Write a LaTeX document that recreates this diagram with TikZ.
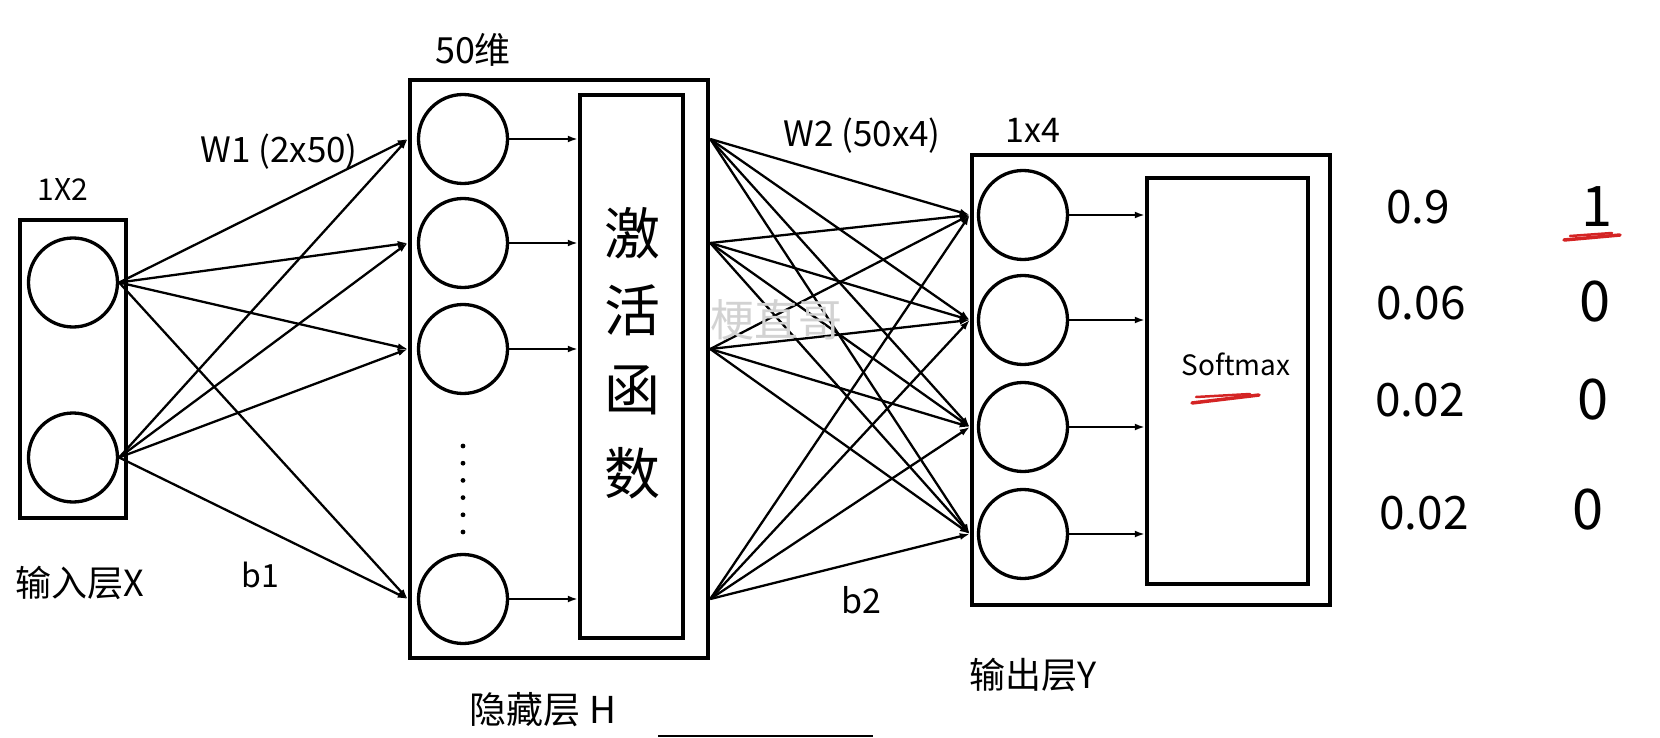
\documentclass[tikz,border=0pt]{standalone}
\usepackage{fontspec}
\setmainfont{Noto Sans CJK SC}
\usetikzlibrary{arrows.meta}
\definecolor{penred}{HTML}{D42424}
\begin{document}
\begin{tikzpicture}[x=1pt,y=-1pt,
  box/.style={draw, rectangle, line width=4.5pt, inner sep=0pt},
  neuron/.style={draw, circle, line width=3.3pt, minimum size=89pt, inner sep=0pt},
  conn/.style={line width=2.3pt, -{Latex[length=10pt,width=7pt]}},
  feed/.style={line width=2pt, -{Latex[length=10pt,width=7pt]}},
  lab/.style={inner sep=0pt, font=\fontsize{#1}{#1}\selectfont},
  lab/.default=30,
  redmark/.style={draw=penred, line width=3.5pt, line cap=round}]
\useasboundingbox (0,0) rectangle (1660,738);

% input layer
\node[box, minimum width=106pt, minimum height=298pt] (inbox) at (73,369) {};
\node[neuron] (x1) at (73,282.5) {};
\node[neuron] (x2) at (73,457.5) {};

% hidden layer
\node[box, minimum width=298pt, minimum height=578pt] (hbox) at (559,369) {};
\node[neuron] (h1) at (463,139) {};
\node[neuron] (h2) at (463,243) {};
\node[neuron] (h3) at (463,349) {};
\node[neuron] (h4) at (463,599) {};
\foreach \k in {0,...,5} \fill (463,446+17.2*\k) circle (2.4pt);
\node[box, minimum width=103pt, minimum height=543pt] (act) at (631.5,366.5) {};
\node[lab=56] (a1) at (632,233) {激};
\node[lab=56] (a2) at (632,310) {活};
\node[lab=56] (a3) at (632,390) {函};
\node[lab=56] (a4) at (632,473) {数};

% output layer
\node[box, minimum width=358pt, minimum height=450pt] (obox) at (1151,380) {};
\node[box, minimum width=161pt, minimum height=406pt] (smax) at (1227.5,381) {};
\node[neuron] (y1) at (1023,215) {};
\node[neuron] (y2) at (1023,320) {};
\node[neuron] (y3) at (1023,427) {};
\node[neuron] (y4) at (1023,534) {};
\node[lab=28] (sm) at (1236,364) {Softmax};

% connections
\foreach \i in {x1,x2}
  \foreach \j in {h1,h2,h3,h4}
    \draw[conn] (\i.east) -- (hbox.west |- \j);
\foreach \j in {h1,h2,h3,h4}
  \draw[feed] (\j.east) -- (act.west |- \j);
\foreach \i in {h1,h2,h3,h4}
  \foreach \j in {y1,y2,y3,y4}
    \draw[conn] (hbox.east |- \i) -- (obox.west |- \j);
\foreach \j in {y1,y2,y3,y4}
  \draw[feed] (\j.east) -- (smax.west |- \j);

% labels
\node[lab=30] (l12) at (63,190) {1X2};
\node[lab=36] (lin) at (80,583) {输入层X};
\node[lab=32] (lb1) at (260,575) {b1};
\node[lab=35] (lw1) at (279,152) {W1 (2x50)};
\node[lab=36] (l50) at (473,50) {50维};
\node[lab=37] (lh) at (543,710) {隐藏层 H};
\node[lab=35] (lw2) at (862,136) {W2 (50x4)};
\node[lab=34] (l14) at (1033,130) {1x4};
\node[lab=34] (lb2) at (861,600) {b2};
\node[lab=36] (lout) at (1033,675) {输出层Y};
\node[lab=44, text=gray!35] (wm) at (776,320) {梗直哥};

% probabilities and targets
\node[lab=46] (p1) at (1418,207) {0.9};
\node[lab=46] (p2) at (1421,303) {0.06};
\node[lab=46] (p3) at (1420,400) {0.02};
\node[lab=46] (p4) at (1424,513) {0.02};
\node[lab=56] (t1) at (1597,207) {1};
\node[lab=56] (t2) at (1595,302) {0};
\node[lab=56] (t3) at (1593,400) {0};
\node[lab=56] (t4) at (1588,510) {0};

% red pen marks
\draw[redmark] (1192,403) -- (1259,395);
\draw[redmark, line width=2.5pt] (1196,397) -- (1250,394);
\draw[redmark] (1564,240) -- (1620,235);
\draw[redmark, line width=2.5pt] (1570,236) -- (1612,233);

% bottom bar
\draw[line width=2pt] (658,736) -- (873,736);
\end{tikzpicture}
\end{document}
